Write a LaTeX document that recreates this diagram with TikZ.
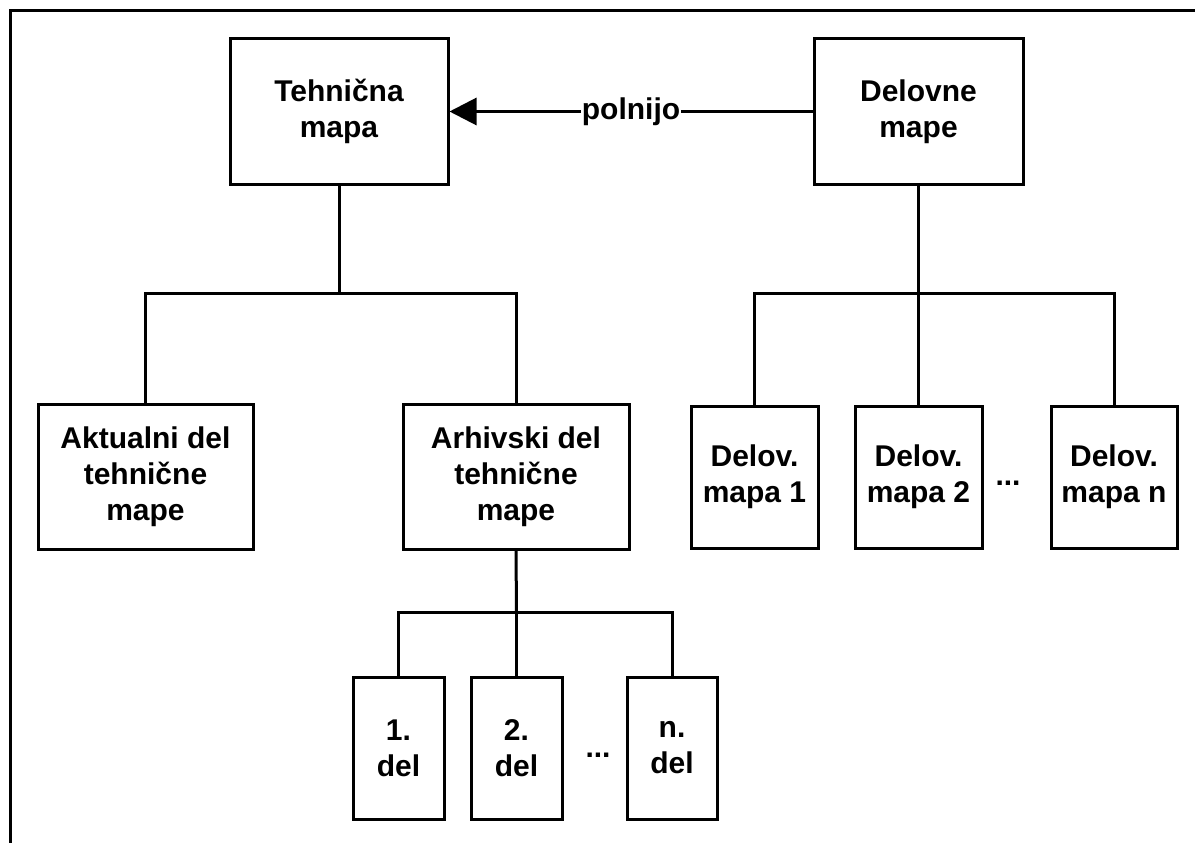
\documentclass[tikz,border=0pt]{standalone}
\usepackage{fontspec}
\setmainfont{Liberation Sans}
\usetikzlibrary{arrows.meta}
\begin{document}
\begin{tikzpicture}[x=1pt,y=-1pt,
  every node/.style={font=\fontsize{30}{36}\selectfont\bfseries},
  box/.style={draw,line width=3pt,inner sep=0pt,align=center,minimum height=145pt},
  link/.style={line width=3pt},
  dotsnode/.style={inner sep=0pt}]
\useasboundingbox (0,0) rectangle (1195,843);
% frame
\draw[line width=3pt] (1195,11) -- (10,11) -- (10,843);

% top level
\node[box,minimum width=218pt] (teh) at (339,111.5) {Tehnična\\mapa};
\node[box,minimum width=209pt] (del) at (918.5,111.5) {Delovne\\mape};

% technical folder branch
\node[box,minimum width=215pt] (akt) at (145.5,477) {Aktualni del\\tehnične\\mape};
\node[box,minimum width=226pt] (arh) at (516,477) {Arhivski del\\tehnične\\mape};

% archive parts
\node[box,minimum width=91pt,minimum height=142pt] (p1) at (398.5,748) {1.\\del};
\node[box,minimum width=91pt,minimum height=142pt] (p2) at (516.5,748) {2.\\del};
\node[box,minimum width=90pt,minimum height=142pt] (pn) at (672,748) {n.\\del};
\node[dotsnode] (pdots) at (598,755) {...};

% working folders
\node[box,minimum width=127pt,minimum height=142pt] (d1) at (754.5,477) {Delov.\\mapa 1};
\node[box,minimum width=127pt,minimum height=142pt] (d2) at (918.5,477) {Delov.\\mapa 2};
\node[box,minimum width=126pt,minimum height=142pt] (dn) at (1114,477) {Delov.\\mapa n};
\node[dotsnode] (ddots) at (1008,483) {...};

% junctions of the tree lines
\coordinate (tj) at (339,293);
\coordinate (dj) at (918.5,293);
\coordinate (aj) at (516.5,612);

\draw[link] (teh.south) -- (tj);
\draw[link] (akt.north) |- (tj) -| (arh.north);

\draw[link] (del.south) -- (dj);
\draw[link] (d1.north) |- (dj) -| (dn.north);
\draw[link] (dj) -- (d2.north);

\draw[link] (arh.south) -- (aj);
\draw[link] (p1.north) |- (aj) -| (pn.north);
\draw[link] (aj) -- (p2.north);

% relation between the two top boxes
\draw[link,-{Triangle[length=27pt,width=27pt]}] (del.west) -- (teh.east)
  node[midway,fill=white,inner sep=1pt] (lbl) {polnijo};
\end{tikzpicture}
\end{document}
